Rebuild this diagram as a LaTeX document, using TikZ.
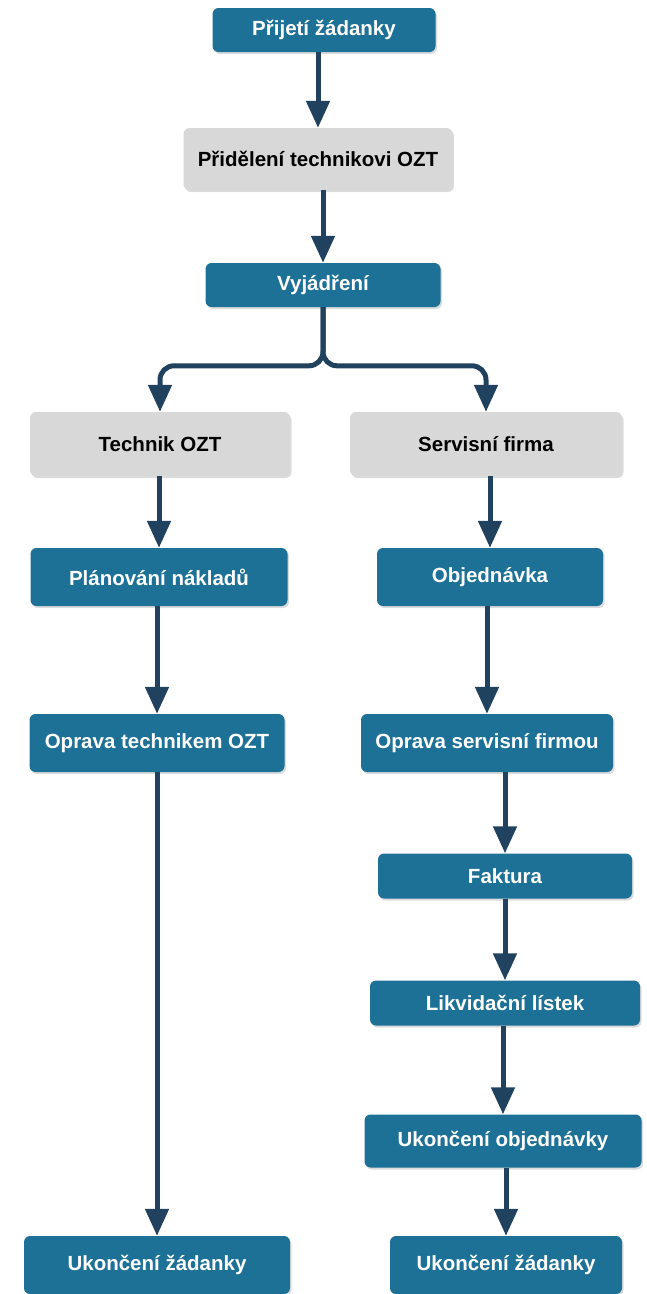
\documentclass[tikz,border=0pt]{standalone}
\usepackage{fontspec}
\setmainfont{Liberation Sans}
\usetikzlibrary{%
  arrows.meta,% Triangle
  shadows,%
  positioning%
}
\definecolor{modra}{RGB}{29,112,150}
\definecolor{seda}{RGB}{216,216,216}
\definecolor{tmava}{RGB}{32,66,95}

\begin{document}
\begin{tikzpicture}[x=1pt, y=-1pt,
  every node/.style = {shape=rectangle, rounded corners=6pt,
    align=center, inner sep=0pt,
    font=\fontsize{20.5}{24}\selectfont\bfseries,
    drop shadow={shadow xshift=1.5pt, shadow yshift=-2pt,
      opacity=.35, fill=black!40}},
  krok/.style = {fill=modra, text=white},
  volba/.style = {fill=seda, text=black},
  sipka/.style = {draw=tmava, line width=5pt,
    -{Triangle[width=23pt,length=27pt]}}]
  \useasboundingbox (0,0) rectangle (647,1294);

  % hlavni vetev
  \node[krok, minimum width=223pt, minimum height=44pt] (prij) at (324,30) {Přijetí žádanky};
  \node[volba, minimum width=269pt, minimum height=62pt] (prid) at (318,159) {Přidělení technikovi OZT};
  \node[krok, minimum width=235pt, minimum height=44pt] (vyj) at (323,285) {Vyjádření};

  % technik
  \node[volba, minimum width=260pt, minimum height=64pt] (tech) at (160,444) {Technik OZT};
  \node[krok, minimum width=257pt, minimum height=58pt] (plan) at (159,577) {Plánování nákladů};
  \node[krok, minimum width=255pt, minimum height=58pt] (opt) at (157,743) {Oprava technikem OZT};
  \node[krok, minimum width=266pt, minimum height=58pt] (ukz1) at (157,1265) {Ukončení žádanky};

  % servisni firma
  \node[volba, minimum width=272pt, minimum height=64pt] (serv) at (486,444) {Servisní firma};
  \node[krok, minimum width=226pt, minimum height=58pt] (obj) at (490,577) {Objednávka};
  \node[krok, minimum width=252pt, minimum height=58pt] (ops) at (487,743) {Oprava servisní firmou};
  \node[krok, minimum width=254pt, minimum height=45pt] (fak) at (505,876) {Faktura};
  \node[krok, minimum width=270pt, minimum height=45pt] (lik) at (505,1003) {Likvidační lístek};
  \node[krok, minimum width=277pt, minimum height=53pt] (ukob) at (503,1141) {Ukončení objednávky};
  \node[krok, minimum width=232pt, minimum height=58pt] (ukz2) at (506,1265) {Ukončení žádanky};

  \draw[sipka] (prij.south -| prid.north) -- (prid.north);
  \draw[sipka] (prid.south -| vyj.north) -- (vyj.north);
  \draw[sipka, rounded corners=14pt] (vyj.south) |- ([yshift=46pt]tech.north) -- (tech.north);
  \draw[sipka, rounded corners=14pt] (vyj.south) |- ([yshift=46pt]serv.north) -- (serv.north);

  \draw[sipka] (tech.south -| plan.north) -- (plan.north);
  \draw[sipka] (plan.south -| opt.north) -- (opt.north);
  \draw[sipka] (opt.south -| ukz1.north) -- (ukz1.north);

  \draw[sipka] (serv.south -| obj.north) -- (obj.north);
  \draw[sipka] (obj.south -| ops.north) -- (ops.north);
  \draw[sipka] (ops.south -| fak.north) -- (fak.north);
  \draw[sipka] (fak.south -| lik.north) -- (lik.north);
  \draw[sipka] (lik.south -| ukob.north) -- (ukob.north);
  \draw[sipka] (ukob.south -| ukz2.north) -- (ukz2.north);
\end{tikzpicture}
\end{document}
